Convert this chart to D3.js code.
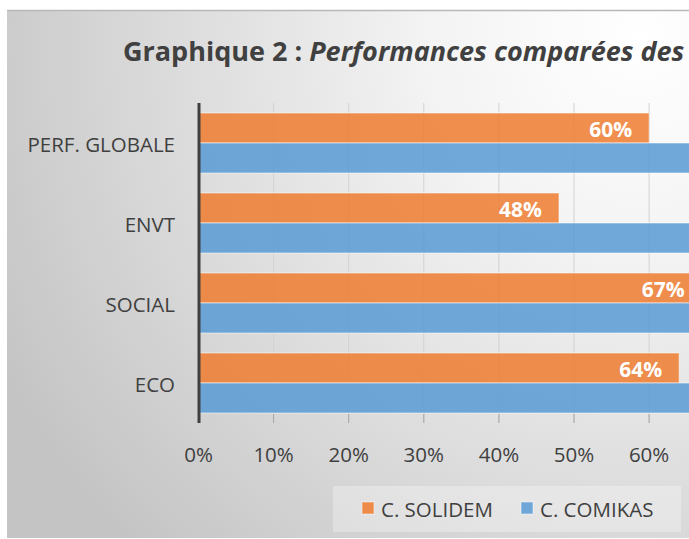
<!DOCTYPE html>
<html><head><meta charset="utf-8">
<script src="https://cdn.jsdelivr.net/npm/d3@7"></script>
<style>html,body{margin:0;padding:0;background:#fff;overflow:hidden}svg{display:block}</style>
</head><body>
<script>
const categories = ["PERF. GLOBALE", "ENVT", "SOCIAL", "ECO"];
const seriesNames = ["C. SOLIDEM", "C. COMIKAS"];
const solidem = [0.60, 0.48, 0.67, 0.64];
const comikas = [0.78, 0.74, 0.82, 0.80];
const xTicks = [0, 0.1, 0.2, 0.3, 0.4, 0.5, 0.6];
const colors = ["#ED7D31", "#5B9BD5"];

const W = 689, H = 539;
const FONT = "'Open Sans', 'Noto Sans', sans-serif";
const svg = d3.select("body").append("svg").attr("width", W).attr("height", H);
const defs = svg.append("defs");
const rg = defs.append("radialGradient").attr("id", "bg")
  .attr("gradientUnits", "userSpaceOnUse").attr("cx", 640).attr("cy", 40).attr("r", 720);
rg.append("stop").attr("offset", 0).attr("stop-color", "#ffffff");
rg.append("stop").attr("offset", 0.3).attr("stop-color", "#f3f3f3");
rg.append("stop").attr("offset", 1).attr("stop-color", "#c4c4c4");

svg.append("rect").attr("x", 7).attr("y", 10).attr("width", W).attr("height", 528).attr("fill", "url(#bg)");
svg.append("line").attr("x1", 7).attr("x2", W).attr("y1", 10.5).attr("y2", 10.5).attr("stroke", "#b8b8b8").attr("stroke-width", 1.5);

const x = d3.scaleLinear().domain([0, 1]).range([198.5, 198.5 + 751]);
const y = d3.scaleBand().domain(categories).range([103, 423]).paddingInner(0.25).paddingOuter(0.125);
const sub = d3.scaleBand().domain(seriesNames).range([0, y.bandwidth()]);

// gridlines
svg.append("g").selectAll("line").data(xTicks.slice(1)).join("line")
  .attr("x1", d => x(d)).attr("x2", d => x(d))
  .attr("y1", 103).attr("y2", 423).attr("stroke", "#d2d2d2").attr("stroke-width", 1);
svg.append("g").selectAll("line").data(xTicks.slice(1)).join("line")
  .attr("x1", d => x(d)).attr("x2", d => x(d))
  .attr("y1", 414).attr("y2", 423).attr("stroke", "#a6a6a6").attr("stroke-width", 1);

// bars
const rows = categories.map((c, i) => ({c, vals: [solidem[i], comikas[i]]}));
const g = svg.append("g").selectAll("g").data(rows).join("g").attr("transform", d => `translate(0,${y(d.c)})`);
g.selectAll("rect").data(d => d.vals.map((v, j) => ({v, s: seriesNames[j], j}))).join("rect")
  .attr("x", x(0)).attr("y", d => sub(d.s)).attr("width", d => x(d.v) - x(0)).attr("height", sub.bandwidth())
  .attr("fill", d => colors[d.j]).attr("fill-opacity", 0.86)
  .attr("stroke", "#ffffff").attr("stroke-opacity", 0.45).attr("stroke-width", 1.2);
// labels on orange
g.append("text").attr("x", d => x(d.vals[0]) - 17).attr("y", sub("C. SOLIDEM") + sub.bandwidth() / 2 + 1)
  .attr("text-anchor", "end").attr("dominant-baseline", "central")
  .attr("font-family", FONT).attr("font-weight", "bold").attr("font-size", 21).attr("fill", "#ffffff")
  .text(d => d3.format(".0%")(d.vals[0]));

// y axis
svg.append("line").attr("x1", 199).attr("x2", 199).attr("y1", 103).attr("y2", 423).attr("stroke", "#404040").attr("stroke-width", 3);
svg.append("g").selectAll("text").data(categories).join("text")
  .attr("x", 175).attr("y", d => y(d) + y.bandwidth() / 2 + 1).attr("text-anchor", "end").attr("dominant-baseline", "central")
  .attr("font-family", FONT).attr("font-size", 20.5).attr("fill", "#404040").text(d => d);

// x tick labels
svg.append("g").selectAll("text").data(xTicks).join("text")
  .attr("x", d => x(d)).attr("y", 462).attr("text-anchor", "middle")
  .attr("font-family", FONT).attr("font-size", 20.5).attr("fill", "#404040").text(d => d3.format(".0%")(d));

// title
const t = svg.append("text").attr("x", 123).attr("y", 61).attr("font-family", FONT).attr("font-size", 27)
  .attr("font-weight", "bold").attr("fill", "#404040");
t.append("tspan").text("Graphique 2 : ");
t.append("tspan").attr("font-style", "italic").text("Performances comparées des");

// legend
const lg = svg.append("g");
lg.append("rect").attr("x", 333).attr("y", 486).attr("width", 348).attr("height", 46).attr("fill", "#ffffff").attr("fill-opacity", 0.3);
const items = lg.selectAll("g").data(seriesNames).join("g").attr("transform", (d, i) => `translate(${[362, 521][i]},0)`);
items.append("rect").attr("x", 0).attr("y", 502).attr("width", 12).attr("height", 12)
  .attr("fill", (d, i) => colors[i]).attr("fill-opacity", 0.86).attr("stroke", "#fff").attr("stroke-opacity", 0.5);
items.append("text").attr("x", 19).attr("y", 509).attr("dominant-baseline", "central")
  .attr("font-family", FONT).attr("font-size", 20.5).attr("fill", "#404040").text(d => d);
</script>
</body></html>
